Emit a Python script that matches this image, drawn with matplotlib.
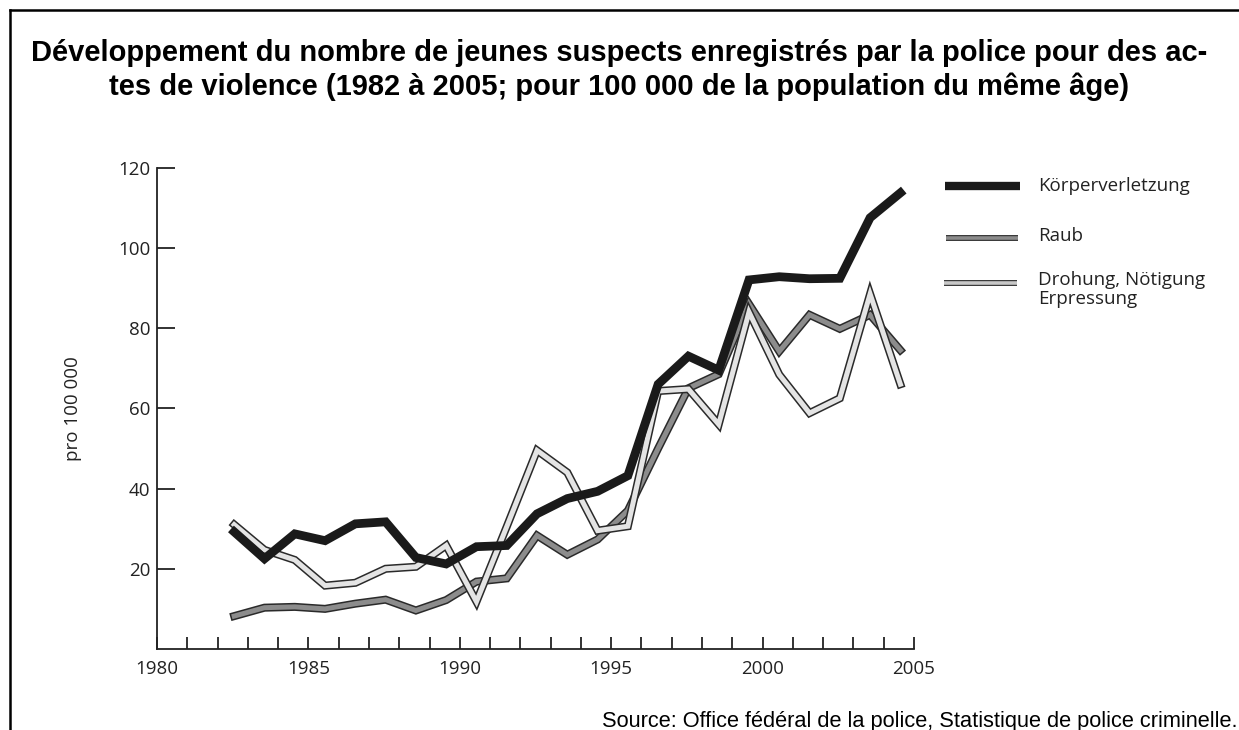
import matplotlib
matplotlib.use("Agg")
import matplotlib.pyplot as plt
import matplotlib.patheffects as pe
from matplotlib.lines import Line2D

# values, one per year (1982..2004), plotted mid-year
years = list(range(1982, 2005))
koerperverletzung = [29.2, 22.5, 28.7, 27.0, 31.2, 31.7, 22.8, 21.2, 25.5, 25.8, 33.7, 37.5,
                     39.3, 43.2, 66.0, 73.0, 69.5, 92.0, 92.8, 92.3, 92.4, 107.5, 113.7]
raub = [8.2, 10.3, 10.5, 10.0, 11.3, 12.3, 9.6, 12.2, 16.8, 17.6, 28.3, 23.5,
        27.3, 34.5, 50.0, 65.0, 68.5, 86.0, 74.2, 83.3, 79.8, 83.3, 74.5]
drohung = [31.0, 24.7, 22.2, 15.8, 16.5, 20.0, 20.5, 25.8, 11.8, 30.5, 49.5, 44.0,
           29.5, 30.6, 64.3, 64.8, 56.0, 84.0, 68.4, 58.8, 62.5, 88.5, 66.0]
series_labels = ["Körperverletzung", "Raub", "Drohung, Nötigung\nErpressung"]
xtick_labels = ["1980", "1985", "1990", "1995", "2000", "2005"]
yticks = [20, 40, 60, 80, 100, 120]

W, H = 1239, 730
fig = plt.figure(figsize=(W / 100, H / 100), dpi=100)
fig.patch.set_facecolor("white")

def fx(px):
    return px / W

def fy(py):
    return 1 - py / H

ax = fig.add_axes([fx(157), fy(649), fx(914) - fx(157), fy(167.6) - fy(649)])
xs = [y + 0.55 for y in years]

outline = "#2a2a2a"
ax.plot(xs, raub, color="#8c8c8c", lw=3.6, solid_joinstyle="miter",
        path_effects=[pe.Stroke(linewidth=5.8, foreground=outline), pe.Normal()], zorder=3)
ax.plot(xs, drohung, color="#e4e4e4", lw=3.6, solid_joinstyle="miter",
        path_effects=[pe.Stroke(linewidth=5.8, foreground=outline), pe.Normal()], zorder=4)
ax.plot(xs, koerperverletzung, color="#1a1a1a", lw=6.3, solid_joinstyle="miter", zorder=5)

ax.set_xlim(1980, 2005)
ax.set_ylim(0, 120)
for s in ["top", "right"]:
    ax.spines[s].set_visible(False)
for s in ["left", "bottom"]:
    ax.spines[s].set_linewidth(1.3)
    ax.spines[s].set_color("#222222")

tick_font = "Open Sans"
fs = 13.5
ax.set_yticks(yticks)
ax.set_yticklabels([str(v) for v in yticks], fontfamily=tick_font, fontsize=fs, color="#222222")
ax.tick_params(axis="y", direction="in", length=13, width=1.3, pad=5, color="#222222")
ax.set_xticks(range(1980, 2006))
ax.set_xticklabels([str(y) if y % 5 == 0 else "" for y in range(1980, 2006)],
                   fontfamily=tick_font, fontsize=fs, color="#222222")
ax.tick_params(axis="x", direction="in", length=9, width=1.3, pad=8, color="#222222")
ax.set_ylabel("pro 100 000", fontfamily=tick_font, fontsize=fs, color="#222222", labelpad=26)

# legend drawn by hand to the right of the plot
leg_y = [186, 238, 283]
fig.add_artist(Line2D([fx(945), fx(1020)], [fy(leg_y[0])] * 2, color="#1a1a1a", lw=6,
                      solid_capstyle="butt"))
fig.add_artist(Line2D([fx(946), fx(1018)], [fy(leg_y[1])] * 2, color="#8c8c8c", lw=2.6,
                      solid_capstyle="butt",
                      path_effects=[pe.Stroke(linewidth=4.2, foreground=outline), pe.Normal()]))
fig.add_artist(Line2D([fx(944), fx(1017)], [fy(leg_y[2])] * 2, color="#c8c8c8", lw=2.6,
                      solid_capstyle="butt",
                      path_effects=[pe.Stroke(linewidth=4.2, foreground=outline), pe.Normal()]))
fig.text(fx(1038), fy(186), series_labels[0], fontfamily=tick_font, fontsize=fs,
         color="#222222", va="center", ha="left")
fig.text(fx(1038), fy(236), series_labels[1], fontfamily=tick_font, fontsize=fs,
         color="#222222", va="center", ha="left")
fig.text(fx(1038), fy(271), series_labels[2], fontfamily=tick_font, fontsize=fs,
         color="#222222", va="top", ha="left", linespacing=1.05)

fig.text(0.5, fy(70), "Développement du nombre de jeunes suspects enregistrés par la police pour des ac-\n"
         "tes de violence (1982 à 2005; pour 100 000 de la population du même âge)",
         fontfamily="Liberation Sans", fontweight="bold", fontsize=21, ha="center", va="center",
         linespacing=1.25)

fig.text(fx(1237), fy(721), "Source: Office fédéral de la police, Statistique de police criminelle.",
         fontfamily="Liberation Sans", fontsize=15.7, ha="right", va="center")

# frame around the figure (top and left edges visible)
fig.add_artist(Line2D([fx(10), fx(10)], [fy(10), 0], color="black", lw=1.8))
fig.add_artist(Line2D([fx(10), 1], [fy(10), fy(10)], color="black", lw=1.8))

fig.savefig("out.png", dpi=100)
